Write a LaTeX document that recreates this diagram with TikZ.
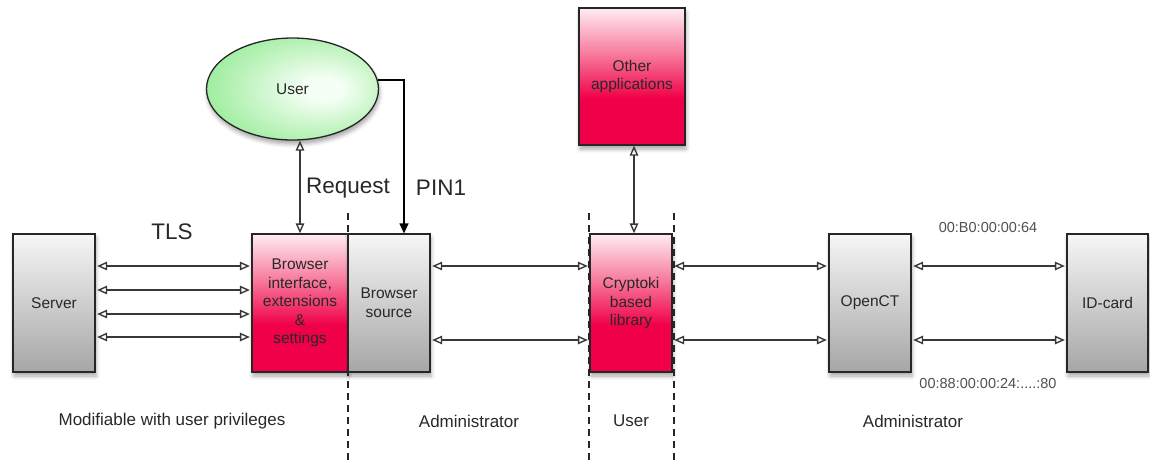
\documentclass[tikz,border=0pt]{standalone}
\usepackage{fontspec}
\setmainfont{Liberation Sans}
\usetikzlibrary{arrows.meta,shapes.geometric,shadows.blur}

\definecolor{pinkdeep}{RGB}{240,0,72}
\definecolor{pinkmid}{RGB}{247,120,155}
\definecolor{pinklight}{RGB}{255,236,242}
\definecolor{graydark}{RGB}{166,166,166}
\definecolor{graylight}{RGB}{246,246,246}
\definecolor{greenedge}{RGB}{146,234,146}
\definecolor{greenlight}{RGB}{246,255,246}
\definecolor{inkgray}{RGB}{40,40,40}
\definecolor{hexgray}{RGB}{80,80,80}

% vertical fills for the boxes (bottom at 25bp, top at 75bp)
\pgfdeclareverticalshading{pinkfade}{100bp}{color(0bp)=(pinkdeep); color(25bp)=(pinkdeep); color(42bp)=(pinkdeep); color(58bp)=(pinkmid); color(75bp)=(pinklight); color(100bp)=(pinklight)}
\pgfdeclareverticalshading{grayfade}{100bp}{color(0bp)=(graydark); color(25bp)=(graydark); color(75bp)=(graylight); color(100bp)=(graylight)}
% soft glow for the user ellipse, brightest right of centre
\pgfdeclareradialshading{greenglow}{\pgfpoint{10bp}{0bp}}{color(0bp)=(greenlight); color(5bp)=(greenlight); color(34bp)=(greenedge); color(60bp)=(greenedge)}

\newcommand\fBox{\fontsize{15.5}{18.6}\selectfont}
\newcommand\fBig{\fontsize{22.5}{27}\selectfont}
\newcommand\fFoot{\fontsize{17}{20}\selectfont}
\newcommand\fHex{\fontsize{14.5}{17}\selectfont}

\tikzset{
  softshadow/.style={blur shadow={shadow xshift=1pt, shadow yshift=-4pt, shadow blur radius=4pt, shadow opacity=35}},
  blockbox/.style={draw=black!85, line width=1.3pt, minimum width=82pt, minimum height=138pt,
    inner sep=0pt, align=center, text=inkgray, font=\fBox, softshadow},
  graybox/.style={blockbox, shading=grayfade},
  pinkbox/.style={blockbox, shading=pinkfade},
  link/.style={draw=black!78, line width=1.4pt, {Triangle[open, length=10pt, width=8.5pt]}-{Triangle[open, length=10pt, width=8.5pt]}, shorten <=1.5pt, shorten >=1.5pt},
  pinlink/.style={draw=black, line width=1.3pt, -{Triangle[length=10pt, width=9pt]}},
  zone/.style={draw=black!85, line width=1.1pt, dash pattern=on 7pt off 5pt},
  biglabel/.style={font=\fBig, text=inkgray},
  footlabel/.style={font=\fFoot, text=inkgray},
  hexlabel/.style={font=\fHex, text=hexgray},
}

\begin{document}
\begin{tikzpicture}[x=1pt, y=-1pt]
\useasboundingbox (0,0) rectangle (1150,464);

% blocks
\node[graybox] (server) at (54,303) {Server};
\node[pinkbox, minimum width=96pt] (bif) at (300,303) {Browser\\interface,\\extensions\\\&\\settings};
\node[graybox] (bsrc) at (389,303) {Browser\\source};
\node[pinkbox] (crypto) at (631,303) {Cryptoki\\based\\library};
\node[pinkbox, minimum width=106pt, minimum height=137pt] (other) at (632,76.5) {Other\\applications};
\node[graybox] (openct) at (870,303) {OpenCT};
\node[graybox, minimum width=81pt] (idcard) at (1107.5,303) {ID-card};
\node[ellipse, draw=black!85, line width=1.3pt, minimum width=172pt, minimum height=102pt,
  inner sep=0pt, shading=greenglow, text=inkgray, font=\fBox, softshadow]
  (user) at (292.5,89) {User};

% server <-> browser interface (TLS)
\foreach \dy in {37,13,-11,-34}
  \draw[link] ([yshift=\dy pt]server.east) -- ([yshift=\dy pt]bif.west);

% browser source <-> cryptoki <-> OpenCT <-> ID-card
\foreach \dy in {37,-37} {
  \draw[link] ([yshift=\dy pt]bsrc.east) -- ([yshift=\dy pt]crypto.west);
  \draw[link] ([yshift=\dy pt]crypto.east) -- ([yshift=\dy pt]openct.west);
  \draw[link] ([yshift=\dy pt]openct.east) -- ([yshift=\dy pt]idcard.west);
}

% user request and PIN entry
\draw[link, shorten <=0pt, shorten >=0pt] (bif.north |- user.south) -- (bif.north);
\draw[pinlink] (user.6) -| ([xshift=15pt]bsrc.north);

% other applications <-> cryptoki
\draw[link, shorten <=0pt, shorten >=0pt] ([xshift=2pt]other.south) -- ([xshift=2pt]other.south |- crypto.north);

% privilege zone boundaries
\coordinate (z1top) at (348,213);  \coordinate (z1bot) at (348,464);
\coordinate (z2top) at (589,213);  \coordinate (z2bot) at (589,464);
\coordinate (z3top) at (674,213);  \coordinate (z3bot) at (674,464);
\draw[zone] (z1top) -- (z1bot);
\draw[zone] (z2top) -- (z2bot);
\draw[zone] (z3top) -- (z3bot);

% labels
\node[biglabel] (tls) at (172,232) {TLS};
\node[biglabel] (req) at (348,188) {Request};
\node[biglabel] (pin) at (441,188) {PIN1};
\node[hexlabel] (hexa) at (988,228) {00:B0:00:00:64};
\node[hexlabel] (hexb) at (988,383) {00:88:00:00:24:....:80};

\node[footlabel] (zmod) at (172,421) {Modifiable with user privileges};
\node[footlabel] (zadm1) at (469,421) {Administrator};
\node[footlabel] (zuser) at (631,421) {User};
\node[footlabel] (zadm2) at (913,421) {Administrator};
\end{tikzpicture}
\end{document}
